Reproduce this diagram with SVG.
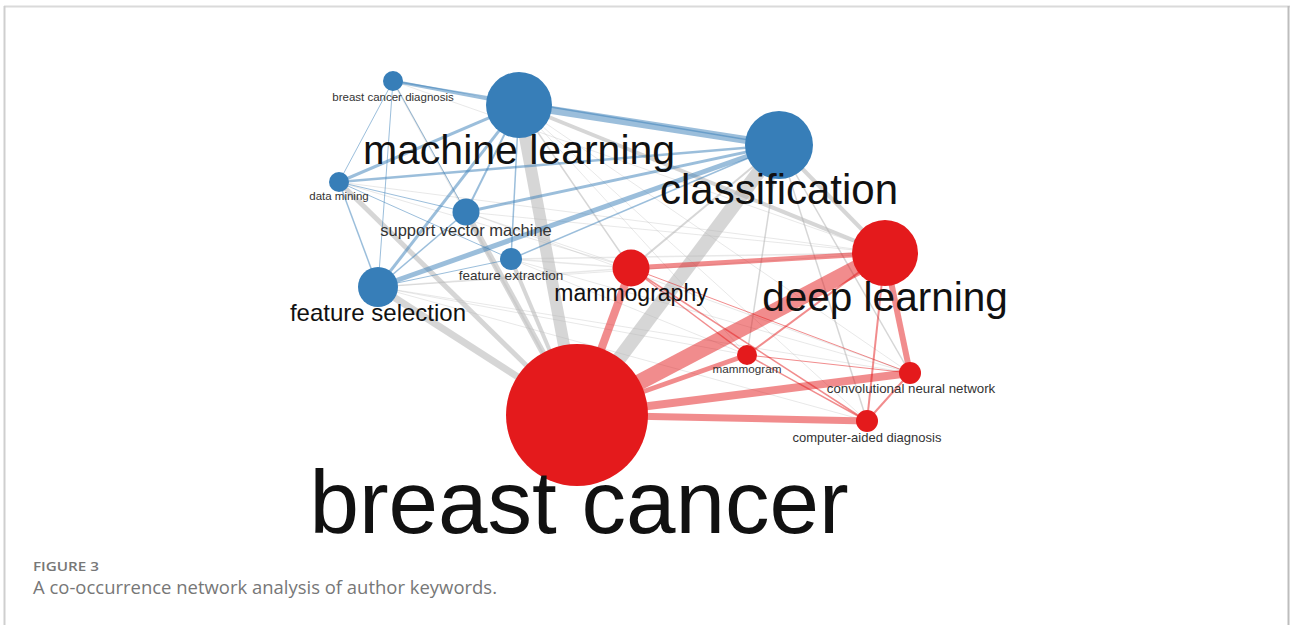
<svg xmlns="http://www.w3.org/2000/svg" width="1290" height="625" viewBox="0 0 1290 625">
<style>
.b{stroke:#377eb8;stroke-opacity:.5;fill:none;stroke-linecap:butt}
.g{stroke:#b4b4b4;stroke-opacity:.55;fill:none}
.f{stroke:#b4b4b4;stroke-opacity:.3;fill:none}
.r{stroke:#e41a1c;stroke-opacity:.5;fill:none}
.nb{fill:#377eb8}
.nr{fill:#e41a1c}
.big{font-family:"Liberation Sans",Arial,sans-serif;fill:#111;text-anchor:middle}
.sm{font-family:"Liberation Sans",Arial,sans-serif;fill:#333;text-anchor:middle}
.cap{font-family:"Open Sans","Liberation Sans",sans-serif;fill:#777}
</style>
<rect width="1290" height="625" fill="#fff"/>
<g id="frame" stroke-width="2" fill="none">
<line x1="4" y1="6.5" x2="1290" y2="6.5" stroke="#dadada"/>
<line x1="4.5" y1="6" x2="4.5" y2="625" stroke="#cfcfcf"/>
<line x1="1288.5" y1="6" x2="1288.5" y2="625" stroke="#bdbdbd"/>
</g>
<g id="connectors">
<!-- faint gray -->
<line class="f" x1="339" y1="182" x2="885" y2="253" stroke-width="1"/>
<line class="f" x1="378" y1="287" x2="885" y2="253" stroke-width="1"/>
<line class="f" x1="378" y1="287" x2="631" y2="268" stroke-width="1.5"/>
<line class="f" x1="378" y1="287" x2="910" y2="373" stroke-width="1"/>
<line class="f" x1="378" y1="287" x2="747" y2="355" stroke-width="1"/>
<line class="f" x1="378" y1="287" x2="867" y2="421" stroke-width="1"/>
<line class="f" x1="466" y1="212" x2="885" y2="253" stroke-width="1"/>
<line class="f" x1="466" y1="212" x2="631" y2="268" stroke-width="1"/>
<line class="f" x1="466" y1="212" x2="910" y2="373" stroke-width="1"/>
<line class="f" x1="511" y1="259" x2="631" y2="268" stroke-width="1.5"/>
<line class="f" x1="511" y1="259" x2="885" y2="253" stroke-width="1.5"/>
<line class="f" x1="511" y1="259" x2="747" y2="355" stroke-width="1"/>
<line class="f" x1="511" y1="259" x2="910" y2="373" stroke-width="1"/>
<line class="f" x1="519" y1="105" x2="747" y2="355" stroke-width="1"/>
<line class="f" x1="519" y1="105" x2="910" y2="373" stroke-width="1"/>
<line class="f" x1="519" y1="105" x2="867" y2="421" stroke-width="1"/>
<line class="f" x1="393" y1="81" x2="577" y2="415" stroke-width="2"/>
<line class="f" x1="393" y1="81" x2="885" y2="253" stroke-width="1"/>
<line class="f" x1="339" y1="182" x2="631" y2="268" stroke-width="1"/>
<!-- gray -->
<line class="g" x1="519" y1="105" x2="577" y2="415" stroke-width="12"/>
<line class="g" x1="779" y1="145" x2="577" y2="415" stroke-width="14"/>
<line class="g" x1="519" y1="105" x2="885" y2="253" stroke-width="4"/>
<line class="g" x1="779" y1="145" x2="885" y2="253" stroke-width="4"/>
<line class="g" x1="378" y1="287" x2="577" y2="415" stroke-width="7"/>
<line class="g" x1="339" y1="182" x2="577" y2="415" stroke-width="5"/>
<line class="g" x1="466" y1="212" x2="577" y2="415" stroke-width="6"/>
<line class="g" x1="511" y1="259" x2="577" y2="415" stroke-width="4"/>
<line class="g" x1="519" y1="105" x2="631" y2="268" stroke-width="1.5"/>
<line class="g" x1="779" y1="145" x2="631" y2="268" stroke-width="2"/>
<line class="g" x1="779" y1="145" x2="747" y2="355" stroke-width="1.5"/>
<line class="g" x1="779" y1="145" x2="910" y2="373" stroke-width="1.5"/>
<line class="g" x1="779" y1="145" x2="867" y2="421" stroke-width="1.5"/>
<!-- blue -->
<line class="b" x1="519" y1="105" x2="779" y2="145" stroke-width="8"/>
<line class="b" x1="393" y1="81" x2="519" y2="105" stroke-width="3"/>
<line class="b" x1="393" y1="81" x2="339" y2="182" stroke-width="1"/>
<line class="b" x1="393" y1="81" x2="378" y2="287" stroke-width="1"/>
<line class="b" x1="393" y1="81" x2="466" y2="212" stroke-width="1"/>
<line class="b" x1="393" y1="81" x2="779" y2="145" stroke-width="1.5"/>
<line class="b" x1="339" y1="182" x2="519" y2="105" stroke-width="3"/>
<line class="b" x1="339" y1="182" x2="779" y2="145" stroke-width="2.5"/>
<line class="b" x1="339" y1="182" x2="466" y2="212" stroke-width="1"/>
<line class="b" x1="339" y1="182" x2="378" y2="287" stroke-width="1.5"/>
<line class="b" x1="339" y1="182" x2="511" y2="259" stroke-width="1"/>
<line class="b" x1="519" y1="105" x2="466" y2="212" stroke-width="2"/>
<line class="b" x1="519" y1="105" x2="378" y2="287" stroke-width="3"/>
<line class="b" x1="519" y1="105" x2="511" y2="259" stroke-width="1.5"/>
<line class="b" x1="466" y1="212" x2="779" y2="145" stroke-width="3"/>
<line class="b" x1="466" y1="212" x2="378" y2="287" stroke-width="1.5"/>
<line class="b" x1="378" y1="287" x2="779" y2="145" stroke-width="5"/>
<line class="b" x1="378" y1="287" x2="511" y2="259" stroke-width="1"/>
<line class="b" x1="511" y1="259" x2="779" y2="145" stroke-width="1.5"/>
<!-- red -->
<line class="r" x1="577" y1="415" x2="885" y2="253" stroke-width="16"/>
<line class="r" x1="577" y1="415" x2="631" y2="268" stroke-width="8"/>
<line class="r" x1="577" y1="415" x2="910" y2="373" stroke-width="8"/>
<line class="r" x1="577" y1="415" x2="867" y2="421" stroke-width="7"/>
<line class="r" x1="577" y1="415" x2="747" y2="355" stroke-width="5"/>
<line class="r" x1="631" y1="268" x2="885" y2="253" stroke-width="5"/>
<line class="r" x1="885" y1="253" x2="910" y2="373" stroke-width="6"/>
<line class="r" x1="885" y1="253" x2="867" y2="421" stroke-width="2"/>
<line class="r" x1="885" y1="253" x2="747" y2="355" stroke-width="2"/>
<line class="r" x1="631" y1="268" x2="747" y2="355" stroke-width="1.5"/>
<line class="r" x1="631" y1="268" x2="867" y2="421" stroke-width="1.5"/>
<line class="r" x1="631" y1="268" x2="910" y2="373" stroke-width="1"/>
<line class="r" x1="747" y1="355" x2="867" y2="421" stroke-width="1.5"/>
<line class="r" x1="910" y1="373" x2="867" y2="421" stroke-width="2"/>
<line class="r" x1="747" y1="355" x2="910" y2="373" stroke-width="1"/>
</g>
<g id="n-breast-cancer-diagnosis"><circle class="nb" cx="393" cy="81" r="10"/><text class="sm" x="393" y="101" font-size="11.5">breast cancer diagnosis</text></g>
<g id="n-data-mining"><circle class="nb" cx="339" cy="182" r="10"/><text class="sm" x="339" y="200" font-size="11.5">data mining</text></g>
<g id="n-support-vector-machine"><circle class="nb" cx="466" cy="212" r="13.5"/><text class="sm" x="466" y="236" font-size="16.5">support vector machine</text></g>
<g id="n-feature-extraction"><circle class="nb" cx="511" cy="259" r="11"/><text class="sm" x="511" y="280" font-size="13.5">feature extraction</text></g>
<g id="n-feature-selection"><circle class="nb" cx="378" cy="287" r="20"/><text class="big" x="378" y="321" font-size="24">feature selection</text></g>
<g id="n-machine-learning"><circle class="nb" cx="519" cy="105" r="33"/><text class="big" x="519" y="164" font-size="41">machine learning</text></g>
<g id="n-classification"><circle class="nb" cx="779" cy="145" r="34"/><text class="big" x="779" y="204" font-size="42">classification</text></g>
<g id="n-mammography"><circle class="nr" cx="631" cy="268" r="18.5"/><text class="big" x="631" y="301" font-size="23">mammography</text></g>
<g id="n-deep-learning"><circle class="nr" cx="885" cy="253" r="33"/><text class="big" x="885" y="311" font-size="40.5">deep learning</text></g>
<g id="n-mammogram"><circle class="nr" cx="747" cy="355" r="10"/><text class="sm" x="747" y="373" font-size="11.7">mammogram</text></g>
<g id="n-convolutional-neural-network"><circle class="nr" cx="910" cy="373" r="11"/><text class="sm" x="911" y="393" font-size="13.3">convolutional neural network</text></g>
<g id="n-computer-aided-diagnosis"><circle class="nr" cx="867" cy="421" r="11"/><text class="sm" x="867" y="442" font-size="13">computer-aided diagnosis</text></g>
<g id="n-breast-cancer"><circle class="nr" cx="577" cy="415" r="71"/><text class="big" x="579" y="533" font-size="89">breast cancer</text></g>
<g id="caption">
<text class="cap" x="33" y="571" font-size="13" font-weight="600" textLength="66" lengthAdjust="spacingAndGlyphs">FIGURE 3</text>
<text class="cap" x="33" y="594" font-size="18" textLength="464" lengthAdjust="spacingAndGlyphs">A co-occurrence network analysis of author keywords.</text>
</g>
</svg>
